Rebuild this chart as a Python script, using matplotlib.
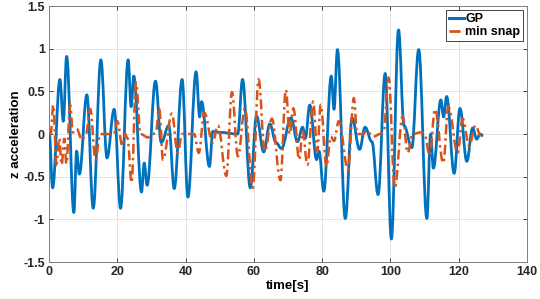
import matplotlib
matplotlib.use("Agg")
import matplotlib.pyplot as plt
from matplotlib.path import Path
from matplotlib.patches import PathPatch
from matplotlib.lines import Line2D

plt.rcParams['font.family'] = ['Liberation Sans', 'DejaVu Sans']
plt.rcParams['font.weight'] = 'bold'

# GP series (time [s], z acceleration) read at peaks/troughs
gp_t = [0.1, 1.07, 3.2, 4.2, 5.17, 7.3, 8.1, 8.9, 11.1, 12.96, 15.2, 17.0, 19.1,
        20.96, 23.2, 24.07, 24.85, 27.1, 27.9, 28.75, 31.2, 32.9, 35.1, 36.7,
        39.0, 40.7, 43.1, 44.15, 44.7, 47.0, 48.0, 50.0, 55.3, 56.7, 58.97,
        60.8, 62.9, 64.7, 66.5, 68.1, 70.9, 72.8, 74.3, 75.1, 76.4, 78.4, 79.1,
        80.5, 82.7, 83.5, 84.5, 86.8, 88.8, 91.0, 92.6, 94.6, 96.4, 98.5, 100.3,
        102.4, 104.0, 106.3, 108.3, 110.7, 111.8, 112.6, 114.8, 115.6, 116.5,
        118.7, 120.4, 122.4, 124.1, 125.3, 126.3, 127.2]
gp_v = [0.0, -0.63, 0.64, 0.15, 0.91, -0.92, -0.2, -0.47, 0.46, -0.87, 0.87, -0.28, 0.29,
        -0.87, 0.87, 0.32, 0.68, -0.68, -0.34, -0.6, 0.62, -0.1, 0.1, -0.64,
        0.64, -0.74, 0.73, 0.2, 0.38, -0.38, 0.03, 0.02, 0.0, 0.64, -0.63,
        0.21, -0.21, 0.12, -0.1, -0.17, 0.19, -0.09, 0.08, -0.05, 0.34, -0.3, -0.2,
        -0.67, 0.68, 0.29, 0.99, -0.99, 0.19, -0.18, 0.08, -0.09, -0.71, 0.71, -1.23,
        1.22, 0.1, -0.16, 0.99, -0.99, 0.0, -0.4, 0.4, 0.2, 0.44,
        -0.46, 0.3, -0.32, 0.07, -0.06, 0.0, -0.02]

# min snap series
ms_t = [0.0, 0.5, 1.27, 2.2, 3.0, 3.7, 4.5, 5.1, 6.2, 7.0, 8.1, 9.7, 10.8, 12.1,
        13.6, 15.0, 19.0, 20.0, 21.5, 22.3, 23.0, 24.2, 25.5, 26.8, 29.0, 30.5,
        31.3, 32.3, 33.4, 36.0, 37.7, 39.0, 42.5, 43.9, 45.5, 47.95, 49.5, 51.95,
        53.6, 55.35, 57.4, 59.7, 61.4, 63.2, 65.3, 67.8, 69.4, 70.5, 71.6, 73.3,
        74.3, 75.7, 77.4, 78.6, 79.6, 81.3, 82.5, 83.5, 84.9, 87.6, 89.3, 90.3,
        92.0, 93.0, 95.0, 97.0, 98.0, 99.5, 101.3, 103.6, 105.1, 106.5, 109.0,
        110.0, 111.5, 113.1, 115.5, 117.0, 119.7, 121.2, 123.1, 124.9, 126.5]
ms_v = [0.0, 0.0, 0.34, -0.35, -0.05, -0.36, -0.05, -0.35, 0.34, 0.02, 0.06, -0.07, 0.0, 0.29,
        -0.3, 0.0, 0.0, 0.15, -0.14, 0.0, -0.05, -0.57, 0.6, 0.0, -0.04, 0.0,
        0.02, 0.29, -0.3, 0.24, -0.22, 0.0, 0.0, -0.22, 0.25, -0.1, 0.1, -0.49,
        0.49, -0.26, 0.3, -0.63, 0.64, -0.2, 0.18, -0.54, 0.52, 0.0, 0.3, -0.3,
        0.03, -0.36, 0.38, -0.2, 0.34, -0.38, -0.03, -0.08, 0.15, -0.42, 0.42, 0.0,
        0.0, 0.04, -0.03, 0.0, 0.02, 0.66, -0.63, 0.21, -0.22, 0.0, 0.02,
        0.0, -0.25, 0.29, -0.34, 0.32, -0.22, 0.18, -0.14, 0.1, -0.02]

x_ticks = [0, 20, 40, 60, 80, 100, 120, 140]
y_ticks = [-1.5, -1, -0.5, 0, 0.5, 1, 1.5]
y_tick_labels = ['-1.5', '-1', '-0.5', '0', '0.5', '1', '1.5']

BLUE = '#0072BD'
ORANGE = '#D95319'
MS_DASH = (0, (4, 1.6, 1, 1.6))


def smooth_path(ts, vs, k=0.38):
    """Cubic Bezier path through the read extrema with flat tangents there."""
    verts = [(ts[0], vs[0])]
    codes = [Path.MOVETO]
    for (t0, v0), (t1, v1) in zip(zip(ts[:-1], vs[:-1]), zip(ts[1:], vs[1:])):
        d = (t1 - t0) * k
        verts += [(t0 + d, v0), (t1 - d, v1), (t1, v1)]
        codes += [Path.CURVE4] * 3
    return Path(verts, codes)


fig = plt.figure(figsize=(5.4, 2.99), dpi=100)
ax = fig.add_axes([0.0907, 0.1237, 0.885, 0.856])

ax.add_patch(PathPatch(smooth_path(gp_t, gp_v), fill=False, edgecolor=BLUE,
                       lw=2.0, joinstyle='round', capstyle='butt', zorder=3))
ax.add_patch(PathPatch(smooth_path(ms_t, ms_v), fill=False, edgecolor=ORANGE,
                       lw=1.8, linestyle=MS_DASH, zorder=4))

ax.set_xlim(0, 140)
ax.set_ylim(-1.5, 1.5)
ax.set_xticks(x_ticks)
ax.set_yticks(y_ticks)
ax.set_yticklabels(y_tick_labels)
ax.grid(True, color='#dedede', lw=0.6)
ax.set_axisbelow(True)
ax.tick_params(direction='in', length=3, width=0.6, colors='#262626',
               labelsize=9, top=True, right=True, pad=3)
for lbl in ax.get_xticklabels() + ax.get_yticklabels():
    lbl.set_fontweight('bold')
for s in ax.spines.values():
    s.set_color('#7f7f7f')
    s.set_linewidth(0.7)

ax.set_xlabel('time[s]', fontsize=9.5, fontweight='bold', labelpad=1)
ax.set_ylabel('z acceleration', fontsize=9.5, fontweight='bold', labelpad=1)

handles = [Line2D([], [], color=BLUE, lw=2.2),
           Line2D([], [], color=ORANGE, lw=2.0, linestyle=MS_DASH)]
leg = ax.legend(handles, ['GP', 'min snap'], loc='upper right', fontsize=9,
                handlelength=1.2, handletextpad=0.1,
                labelspacing=0.1, borderpad=0.25, borderaxespad=0.3, fancybox=False,
                framealpha=1, edgecolor='#262626')
leg.get_frame().set_linewidth(0.6)
for t in leg.get_texts():
    t.set_fontweight('bold')

fig.savefig('out.png', dpi=100)
